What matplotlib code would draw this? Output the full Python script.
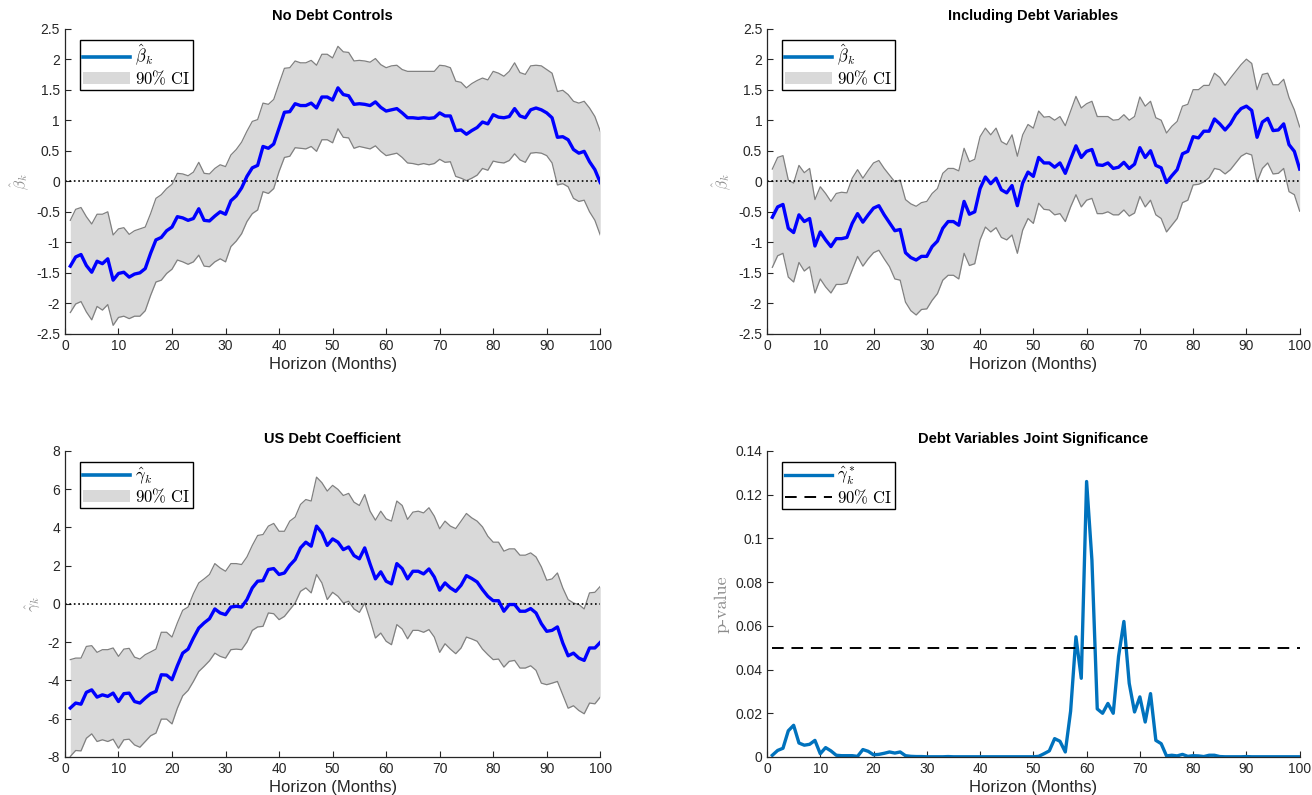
import numpy as np
import matplotlib
matplotlib.use("Agg")
import matplotlib.pyplot as plt
from matplotlib.lines import Line2D
from matplotlib.patches import Patch
from matplotlib.ticker import FuncFormatter, MultipleLocator

# horizon in months
horizon = np.arange(1, 101)

# --- panel 1: no debt controls ---
beta_nodebt = [-1.39, -1.24, -1.20, -1.38, -1.49, -1.31, -1.35, -1.27, -1.62, -1.51,
               -1.49, -1.57, -1.52, -1.50, -1.43, -1.18, -0.96, -0.92, -0.81, -0.75,
               -0.58, -0.60, -0.64, -0.61, -0.45, -0.64, -0.65, -0.57, -0.50, -0.54,
               -0.32, -0.24, -0.11, 0.08, 0.22, 0.26, 0.57, 0.54, 0.61, 0.87,
               1.13, 1.14, 1.27, 1.24, 1.24, 1.28, 1.20, 1.38, 1.38, 1.33,
               1.53, 1.42, 1.40, 1.26, 1.27, 1.26, 1.24, 1.30, 1.21, 1.15,
               1.17, 1.19, 1.12, 1.04, 1.04, 1.03, 1.04, 1.03, 1.04, 1.12,
               1.07, 1.07, 0.83, 0.84, 0.77, 0.83, 0.88, 0.97, 0.94, 1.09,
               1.05, 1.04, 1.06, 1.19, 1.07, 1.04, 1.17, 1.20, 1.17, 1.12,
               1.04, 0.72, 0.73, 0.68, 0.52, 0.46, 0.49, 0.32, 0.19, -0.02]
upper_nodebt = [-0.64, -0.46, -0.43, -0.58, -0.70, -0.54, -0.54, -0.50, -0.88, -0.78,
                -0.76, -0.87, -0.81, -0.78, -0.75, -0.53, -0.28, -0.22, -0.12, -0.05,
                0.13, 0.12, 0.09, 0.15, 0.31, 0.13, 0.12, 0.21, 0.27, 0.24,
                0.43, 0.52, 0.64, 0.82, 0.98, 1.01, 1.28, 1.26, 1.34, 1.60,
                1.85, 1.86, 1.97, 1.94, 1.94, 1.98, 1.90, 2.08, 2.08, 2.02,
                2.21, 2.12, 2.11, 1.97, 1.98, 1.97, 1.95, 2.01, 1.91, 1.86,
                1.89, 1.90, 1.83, 1.80, 1.80, 1.80, 1.80, 1.80, 1.80, 1.90,
                1.89, 1.86, 1.64, 1.62, 1.53, 1.60, 1.65, 1.69, 1.66, 1.80,
                1.77, 1.72, 1.80, 1.94, 1.78, 1.75, 1.89, 1.90, 1.89, 1.83,
                1.77, 1.47, 1.49, 1.42, 1.31, 1.28, 1.31, 1.20, 1.06, 0.82]
lower_nodebt = [-2.15, -2.01, -1.97, -2.14, -2.27, -2.05, -2.11, -2.02, -2.36, -2.23,
                -2.21, -2.25, -2.21, -2.21, -2.12, -1.87, -1.65, -1.62, -1.51, -1.44,
                -1.29, -1.32, -1.36, -1.32, -1.21, -1.39, -1.40, -1.32, -1.27, -1.32,
                -1.07, -0.98, -0.86, -0.66, -0.53, -0.47, -0.17, -0.20, -0.12, 0.16,
                0.39, 0.41, 0.55, 0.54, 0.53, 0.57, 0.49, 0.68, 0.68, 0.63,
                0.86, 0.72, 0.71, 0.54, 0.57, 0.55, 0.53, 0.58, 0.49, 0.42,
                0.44, 0.46, 0.39, 0.30, 0.29, 0.27, 0.29, 0.27, 0.29, 0.36,
                0.31, 0.32, 0.08, 0.05, 0.01, 0.05, 0.10, 0.21, 0.18, 0.33,
                0.31, 0.30, 0.34, 0.45, 0.35, 0.31, 0.46, 0.47, 0.46, 0.42,
                0.30, -0.06, -0.04, -0.09, -0.28, -0.33, -0.31, -0.50, -0.64, -0.88]

# --- panel 2: including debt variables ---
beta_debt = [-0.59, -0.42, -0.38, -0.77, -0.84, -0.55, -0.66, -0.61, -1.06, -0.83,
             -0.96, -1.07, -0.94, -0.94, -0.92, -0.69, -0.53, -0.67, -0.55, -0.44,
             -0.40, -0.55, -0.68, -0.81, -0.79, -1.17, -1.25, -1.29, -1.23, -1.23,
             -1.07, -0.98, -0.77, -0.66, -0.66, -0.72, -0.33, -0.54, -0.50, -0.12,
             0.07, -0.04, 0.05, -0.14, -0.19, -0.07, -0.40, -0.03, 0.15, 0.08,
             0.39, 0.30, 0.30, 0.23, 0.30, 0.13, 0.36, 0.58, 0.39, 0.49,
             0.52, 0.27, 0.26, 0.30, 0.21, 0.23, 0.31, 0.21, 0.28, 0.55,
             0.39, 0.50, 0.26, 0.22, -0.02, 0.09, 0.19, 0.45, 0.49, 0.73,
             0.71, 0.82, 0.82, 1.02, 0.94, 0.84, 0.94, 1.09, 1.19, 1.23,
             1.16, 0.72, 0.97, 1.03, 0.83, 0.84, 0.94, 0.60, 0.49, 0.20]
upper_debt = [0.20, 0.39, 0.42, 0.02, -0.03, 0.26, 0.14, 0.21, -0.30, -0.09,
              -0.20, -0.33, -0.20, -0.18, -0.19, 0.05, 0.19, 0.05, 0.18, 0.30,
              0.34, 0.21, 0.10, -0.01, 0.02, -0.30, -0.37, -0.41, -0.35, -0.33,
              -0.20, -0.12, 0.13, 0.21, 0.21, 0.17, 0.54, 0.32, 0.36, 0.73,
              0.87, 0.76, 0.87, 0.65, 0.60, 0.76, 0.41, 0.76, 0.93, 0.87,
              1.15, 1.05, 1.06, 1.00, 1.06, 0.91, 1.15, 1.39, 1.20, 1.27,
              1.31, 1.06, 1.06, 1.06, 1.00, 1.01, 1.09, 1.00, 1.06, 1.38,
              1.23, 1.31, 1.04, 1.00, 0.79, 0.90, 0.98, 1.23, 1.26, 1.50,
              1.50, 1.57, 1.57, 1.77, 1.70, 1.57, 1.69, 1.80, 1.91, 2.00,
              1.93, 1.50, 1.75, 1.77, 1.58, 1.58, 1.67, 1.37, 1.17, 0.89]
lower_debt = [-1.41, -1.22, -1.18, -1.57, -1.65, -1.33, -1.47, -1.40, -1.83, -1.60,
              -1.73, -1.83, -1.69, -1.69, -1.67, -1.45, -1.23, -1.39, -1.27, -1.17,
              -1.13, -1.27, -1.40, -1.60, -1.62, -1.98, -2.12, -2.19, -2.10, -2.09,
              -1.95, -1.84, -1.62, -1.54, -1.54, -1.60, -1.18, -1.38, -1.35, -0.96,
              -0.75, -0.83, -0.76, -0.92, -0.96, -0.88, -1.18, -0.80, -0.61, -0.69,
              -0.36, -0.46, -0.47, -0.55, -0.53, -0.66, -0.42, -0.22, -0.42, -0.31,
              -0.28, -0.53, -0.53, -0.50, -0.55, -0.55, -0.47, -0.57, -0.52, -0.25,
              -0.42, -0.31, -0.55, -0.61, -0.83, -0.72, -0.61, -0.35, -0.31, -0.06,
              -0.05, -0.01, 0.06, 0.21, 0.19, 0.12, 0.19, 0.30, 0.41, 0.46,
              0.43, -0.01, 0.21, 0.30, 0.12, 0.13, 0.21, -0.17, -0.22, -0.49]

# --- panel 3: US debt coefficient ---
gamma_us = [-5.44, -5.18, -5.24, -4.62, -4.49, -4.87, -4.75, -4.83, -4.66, -5.10,
            -4.69, -4.66, -5.10, -5.18, -4.92, -4.69, -4.57, -3.70, -3.72, -3.96,
            -3.23, -2.57, -2.36, -1.78, -1.26, -0.99, -0.77, -0.26, -0.47, -0.56,
            -0.16, -0.12, -0.16, 0.23, 0.84, 1.19, 1.22, 1.80, 1.85, 1.54,
            1.62, 2.02, 2.32, 2.93, 3.23, 3.02, 4.07, 3.72, 3.06, 3.40,
            3.23, 2.84, 2.98, 2.53, 2.36, 2.93, 2.09, 1.31, 1.68, 1.19,
            1.05, 2.11, 1.85, 1.31, 1.71, 1.71, 1.57, 1.83, 1.41, 0.72,
            1.10, 0.84, 0.66, 0.98, 1.48, 1.33, 1.15, 0.75, 0.40, 0.17,
            0.17, -0.38, -0.03, -0.03, -0.38, -0.38, -0.24, -0.47, -1.03, -1.43,
            -1.38, -1.20, -2.04, -2.71, -2.57, -2.83, -2.95, -2.30, -2.30, -2.01]
upper_us = [-2.91, -2.83, -2.83, -2.22, -2.18, -2.53, -2.39, -2.39, -2.30, -2.74,
            -2.36, -2.32, -2.78, -2.88, -2.65, -2.51, -2.36, -1.48, -1.48, -1.73,
            -0.99, -0.33, -0.16, 0.54, 1.10, 1.31, 1.54, 2.11, 1.88, 1.71,
            2.11, 2.11, 2.06, 2.46, 3.06, 3.58, 3.63, 4.07, 4.21, 3.80,
            3.80, 4.33, 4.54, 5.20, 5.46, 5.38, 6.63, 6.34, 5.90, 6.20,
            5.99, 5.67, 5.78, 5.32, 5.15, 5.72, 4.85, 4.38, 4.85, 4.45,
            4.33, 5.38, 5.15, 4.42, 4.80, 4.85, 4.76, 5.03, 4.59, 3.93,
            4.33, 4.07, 3.94, 4.33, 4.73, 4.50, 4.33, 4.03, 3.54, 3.23,
            3.23, 2.76, 2.88, 2.88, 2.55, 2.55, 2.67, 2.46, 1.94, 1.24,
            1.31, 1.62, 0.84, 0.23, 0.05, -0.03, -0.26, 0.58, 0.61, 0.92]
lower_us = [-7.97, -7.66, -7.68, -7.02, -6.79, -7.19, -7.10, -7.19, -7.07, -7.54,
            -7.10, -7.07, -7.37, -7.49, -7.19, -6.89, -6.75, -6.02, -6.02, -6.27,
            -5.45, -4.80, -4.52, -4.05, -3.53, -3.26, -2.97, -2.57, -2.74, -2.83,
            -2.39, -2.36, -2.39, -1.99, -1.38, -1.20, -1.17, -0.47, -0.51, -0.82,
            -0.65, -0.30, 0.05, 0.66, 0.84, 0.58, 1.54, 1.10, 0.23, 0.61,
            0.40, 0.05, 0.14, -0.26, -0.44, 0.05, -0.82, -1.78, -1.52, -1.95,
            -2.13, -1.08, -1.31, -1.82, -1.38, -1.38, -1.48, -1.34, -1.73, -2.53,
            -2.08, -2.36, -2.60, -2.30, -1.73, -1.83, -1.95, -2.36, -2.65, -2.91,
            -2.88, -3.30, -3.00, -2.95, -3.35, -3.35, -3.23, -3.47, -4.14, -4.22,
            -4.14, -4.05, -4.75, -5.45, -5.32, -5.57, -5.74, -5.18, -5.22, -4.87]

# --- panel 4: joint significance p-values ---
pvalue = [0.0008, 0.003, 0.004, 0.012, 0.0145, 0.0064, 0.0054, 0.0058, 0.0076, 0.0015,
          0.0043, 0.0028, 0.0008, 0.0006, 0.0006, 0.0006, 0.0003, 0.0034, 0.0026, 0.001,
          0.0012, 0.0017, 0.0023, 0.0018, 0.0023, 0.0006, 0.0003, 0.0002, 0.0002, 0.0001,
          0.0001, 0.0001, 0.0001, 0.0002, 0.0001, 0.0001, 0.0001, 0.0001, 0.0001, 0.0001,
          0.0001, 0.0001, 0.0001, 0.0001, 0.0001, 0.0001, 0.0001, 0.0001, 0.0001, 0.0001,
          0.0003, 0.0015, 0.0028, 0.0084, 0.0072, 0.0023, 0.021, 0.055, 0.036, 0.126,
          0.090, 0.022, 0.020, 0.0245, 0.020, 0.046, 0.062, 0.0337, 0.0206, 0.0275,
          0.016, 0.029, 0.0076, 0.0061, 0.0005, 0.0008, 0.0005, 0.0012, 0.0003, 0.0006,
          0.0005, 0.0002, 0.0008, 0.0008, 0.0002, 0.0001, 0.0001, 0.0001, 0.0001, 0.0002,
          0.0001, 0.0001, 0.0001, 0.0001, 0.0001, 0.0001, 0.0001, 0.0001, 0.0001, 0.0001]
cutoff = 0.05

plt.rcParams['font.family'] = ['Liberation Sans', 'DejaVu Sans']
plt.rcParams['mathtext.fontset'] = 'cm'
plt.rcParams['axes.unicode_minus'] = False

axis_col = '#262626'
matlab_blue = '#0072BD'
fmt = FuncFormatter(lambda v, p: '%g' % round(v, 4))

fig = plt.figure(figsize=(13.12, 7.95), dpi=100)
ax1 = fig.add_axes([0.0495, 0.580, 0.408, 0.384])
ax2 = fig.add_axes([0.5846, 0.580, 0.406, 0.384])
ax3 = fig.add_axes([0.0495, 0.0478, 0.408, 0.385])
ax4 = fig.add_axes([0.5846, 0.0478, 0.406, 0.385])

legend_kw = dict(loc='upper left', bbox_to_anchor=(0.028, 0.964), borderaxespad=0,
                 fontsize=12, fancybox=False, edgecolor='black', framealpha=1,
                 handlelength=2.8, handletextpad=0.3, borderpad=0.2,
                 labelspacing=0.0)


def style_axes(ax, title):
    ax.set_xlim(0, 100)
    ax.xaxis.set_major_locator(MultipleLocator(10))
    ax.yaxis.set_major_formatter(fmt)
    ax.spines['top'].set_visible(False)
    ax.spines['right'].set_visible(False)
    for s in ['left', 'bottom']:
        ax.spines[s].set_color(axis_col)
        ax.spines[s].set_linewidth(0.9)
    ax.tick_params(direction='in', length=4, width=0.8, colors=axis_col,
                   labelsize=10, top=False, right=False)
    ax.set_xlabel('Horizon (Months)', fontsize=12, color=axis_col, labelpad=3)
    ax.set_title(title, fontsize=10.5, fontweight='bold', pad=6)


def ci_panel(ax, mid, lo, hi, title, ylab, leg_label, ylim, ystep):
    ax.fill_between(horizon, lo, hi, color='#d9d9d9', linewidth=0)
    ax.plot(horizon, hi, color='#808080', lw=0.9)
    ax.plot(horizon, lo, color='#808080', lw=0.9)
    ax.axhline(0, color='black', ls=':', lw=1.2)
    ax.plot(horizon, mid, color='blue', lw=2.4)
    ax.set_ylim(*ylim)
    ax.yaxis.set_major_locator(MultipleLocator(ystep))
    style_axes(ax, title)
    ax.set_ylabel(ylab, fontsize=11, color='#8c8c8c', labelpad=4)
    handles = [Line2D([], [], color=matlab_blue, lw=2.6),
               Patch(facecolor='#d9d9d9', edgecolor='none')]
    leg = ax.legend(handles, [leg_label, r'$\mathrm{90\%\ CI}$'], **legend_kw)
    leg.get_frame().set_linewidth(1.0)


ci_panel(ax1, beta_nodebt, lower_nodebt, upper_nodebt, 'No Debt Controls',
         r'$\hat{\beta}_k$', r'$\hat{\beta}_k$', (-2.5, 2.5), 0.5)
ci_panel(ax2, beta_debt, lower_debt, upper_debt, 'Including Debt Variables',
         r'$\hat{\beta}_k$', r'$\hat{\beta}_k$', (-2.5, 2.5), 0.5)
ci_panel(ax3, gamma_us, lower_us, upper_us, 'US Debt Coefficient',
         r'$\hat{\gamma}_k$', r'$\hat{\gamma}_k$', (-8, 8), 2)

# p-value panel
ax4.plot(horizon, pvalue, color=matlab_blue, lw=2.4, label=r'$\hat{\gamma}^*_k$')
ax4.hlines(cutoff, horizon[0], horizon[-1], colors='black', linestyles=(0, (6, 4)),
           lw=1.4, label=r'$\mathrm{90\%\ CI}$')
ax4.set_ylim(0, 0.14)
ax4.yaxis.set_major_locator(MultipleLocator(0.02))
style_axes(ax4, 'Debt Variables Joint Significance')
ax4.set_ylabel('p-value', fontsize=13, color='#8c8c8c', family=['cmr10', 'DejaVu Serif'],
               labelpad=4)
leg = ax4.legend(**legend_kw)
leg.get_frame().set_linewidth(1.0)

fig.savefig('out.png', dpi=100)
